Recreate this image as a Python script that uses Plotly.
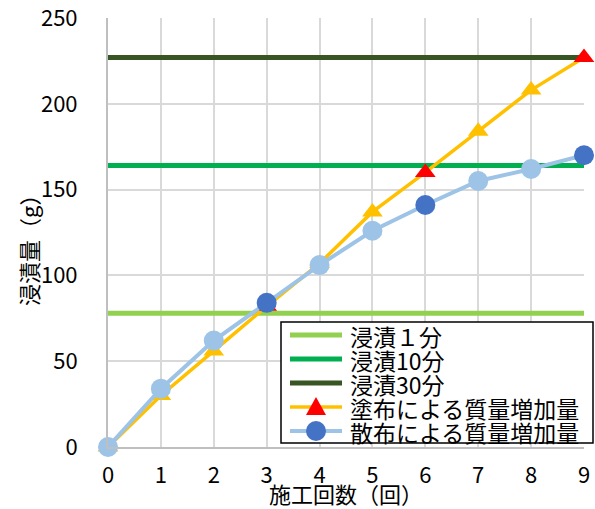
import plotly.graph_objects as go

# Data
x_counts = [0, 1, 2, 3, 4, 5, 6, 7, 8, 9]
coating = [0, 30, 56, 82, 107, 137, 160, 184, 208, 227]
spraying = [0, 34, 62, 84, 106, 126, 141, 155, 162, 170]
dip_1min = 78
dip_10min = 164
dip_30min = 227
highlight_points = [3, 6, 9]
y_ticks = [0, 50, 100, 150, 200, 250]

names = ["浸漬１分", "浸漬10分", "浸漬30分", "塗布による質量増加量", "散布による質量増加量"]
dip_colors = ["#92D050", "#00B050", "#375623"]

FONT = "Noto Sans CJK JP"
W, H = 595, 509
ML, MR, MT, MB = 108, 11, 18, 62
PW, PH = W - ML - MR, H - MT - MB


def pxx(xp):
    return (xp - ML) / PW


def pxy(yp):
    return (H - MB - yp) / PH


fig = go.Figure()

for name, val, col in zip(names[:3], [dip_1min, dip_10min, dip_30min], dip_colors):
    fig.add_trace(go.Scatter(x=[x_counts[0], x_counts[-1]], y=[val, val], mode="lines",
                             line=dict(color=col, width=5), name=name, showlegend=False))

coat_colors = ["#FF0000" if x in highlight_points else "#FFC000" for x in x_counts]
spray_colors = ["#4472C4" if x in highlight_points else "#9DC3E6" for x in x_counts]

fig.add_trace(go.Scatter(x=x_counts, y=coating, mode="lines+markers", name=names[3],
                         line=dict(color="#FFC000", width=3.5),
                         marker=dict(symbol="triangle-up", size=18, color=coat_colors),
                         cliponaxis=False, showlegend=False))
fig.add_trace(go.Scatter(x=x_counts, y=spraying, mode="lines+markers", name=names[4],
                         line=dict(color="#9DC3E6", width=4),
                         marker=dict(symbol="circle", size=20, color=spray_colors),
                         cliponaxis=False, showlegend=False))

# ---- manual legend (box, samples, labels) ----
shapes = [dict(type="rect", xref="paper", yref="paper", layer="above",
               x0=pxx(281), x1=pxx(593), y0=pxy(443), y1=pxy(322),
               line=dict(color="black", width=1.5), fillcolor="white")]
annotations = []
rows = [335, 359, 383, 407, 431]
line_cols = dip_colors + ["#FFC000", "#9DC3E6"]
line_w = [5, 5, 5, 3.5, 4]
for i, (r, name) in enumerate(zip(rows, names)):
    shapes.append(dict(type="line", xref="paper", yref="paper", layer="above",
                       x0=pxx(290), x1=pxx(342), y0=pxy(r), y1=pxy(r),
                       line=dict(color=line_cols[i], width=line_w[i])))
    annotations.append(dict(text=name, xref="paper", yref="paper", x=pxx(348), y=pxy(r + 1),
                            xanchor="left", yanchor="middle", showarrow=False,
                            font=dict(family=FONT, size=23, color="black")))
cx = 316
r = rows[3]
tri = "M {},{} L {},{} L {},{} Z".format(pxx(cx - 10), pxy(r + 8), pxx(cx + 10), pxy(r + 8),
                                         pxx(cx), pxy(r - 10))
shapes.append(dict(type="path", xref="paper", yref="paper", layer="above", path=tri,
                   fillcolor="#FF0000", line=dict(width=0)))
r = rows[4]
shapes.append(dict(type="circle", xref="paper", yref="paper", layer="above",
                   x0=pxx(cx - 10), x1=pxx(cx + 10), y0=pxy(r + 10), y1=pxy(r - 10),
                   fillcolor="#4472C4", line=dict(width=0)))

# y-axis title
annotations.append(dict(text="浸漬量（g）", xref="paper", yref="paper", x=pxx(28), y=pxy(245),
                        xanchor="center", yanchor="middle", textangle=-90, showarrow=False,
                        font=dict(family=FONT, size=22, color="black")))

fig.update_layout(
    width=W, height=H,
    margin=dict(l=ML, r=MR, t=MT, b=MB, autoexpand=False),
    plot_bgcolor="white", paper_bgcolor="white",
    font=dict(family=FONT, size=22, color="black"),
    showlegend=False,
    shapes=shapes,
    annotations=annotations,
    xaxis=dict(range=[0, 9], tickvals=x_counts, showgrid=True, gridcolor="#D9D9D9", gridwidth=1.5,
               showline=True, linecolor="#BFBFBF", linewidth=2, zeroline=False,
               ticks="", ticklabelstandoff=8, automargin=False, ticklabeloverflow="allow",
               title=dict(text="施工回数（回）", standoff=0, font=dict(size=22))),
    yaxis=dict(range=[0, 250], tickvals=y_ticks, showgrid=True,
               gridcolor="#D9D9D9", gridwidth=1.5,
               showline=True, linecolor="#BFBFBF", linewidth=2, zeroline=False,
               ticks="", ticklabelstandoff=24, automargin=False, ticklabeloverflow="allow"),
)

fig.write_html("out.html", config={"displayModeBar": False},
               post_script="document.body.style.margin='0';document.body.style.padding='0';document.body.style.overflow='hidden';")
